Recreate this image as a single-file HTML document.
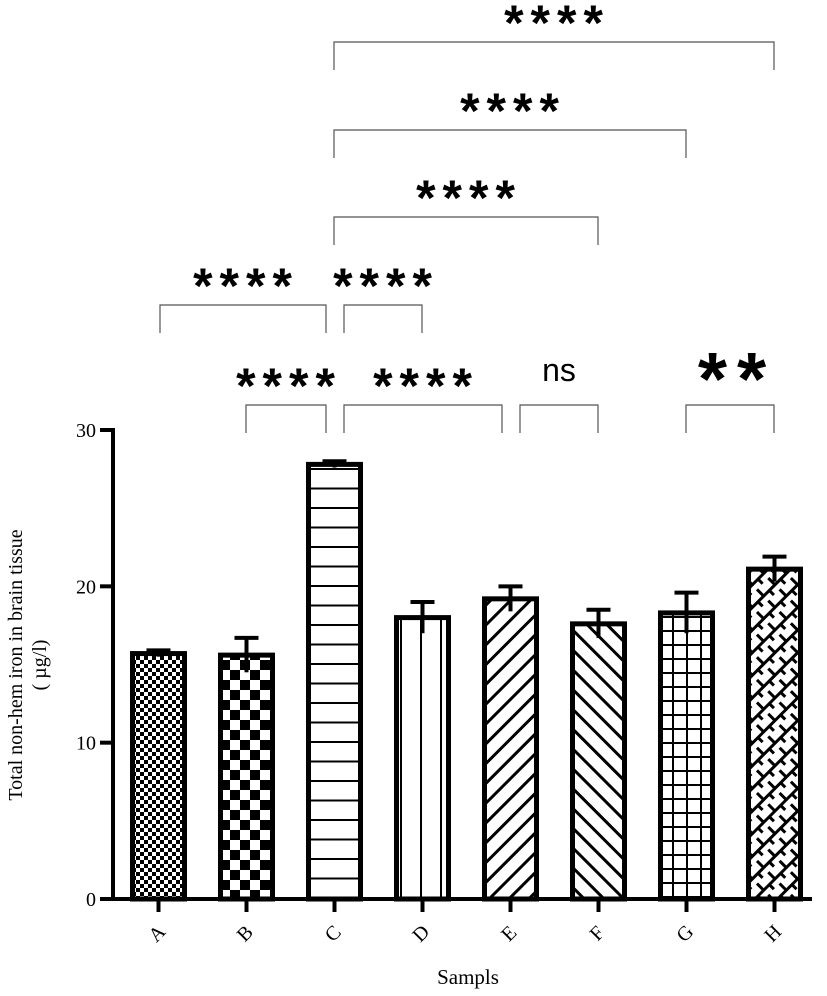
<!DOCTYPE html>
<html><head><meta charset="utf-8"><style>
html,body{margin:0;padding:0;background:#fff}
svg{display:block;font-family:"Liberation Serif",serif}
</style></head><body>
<svg id="chart" width="827" height="996" viewBox="0 0 827 996" xmlns="http://www.w3.org/2000/svg">
<defs>
<pattern id="pA" width="8" height="8" patternUnits="userSpaceOnUse"><rect width="8" height="8" fill="#fff"/><rect width="4" height="4" fill="#000"/><rect x="4" y="4" width="4" height="4" fill="#000"/></pattern>
<pattern id="pB" width="20" height="20" patternUnits="userSpaceOnUse"><rect width="20" height="20" fill="#fff"/><rect width="10" height="10" fill="#000"/><rect x="10" y="10" width="10" height="10" fill="#000"/></pattern>
<pattern id="pC" width="10" height="19.5" patternUnits="userSpaceOnUse"><rect width="10" height="19.5" fill="#fff"/><rect y="0" width="10" height="2" fill="#000"/></pattern>
<pattern id="pD" width="20" height="10" patternUnits="userSpaceOnUse"><rect width="20" height="10" fill="#fff"/><rect x="0" width="2" height="10" fill="#000"/></pattern>
<pattern id="pE" width="14" height="14" patternUnits="userSpaceOnUse" patternTransform="rotate(45)"><rect width="14" height="14" fill="#fff"/><rect width="3" height="14" fill="#000"/></pattern>
<pattern id="pF" width="14" height="14" patternUnits="userSpaceOnUse" patternTransform="rotate(-45)"><rect width="14" height="14" fill="#fff"/><rect width="3" height="14" fill="#000"/></pattern>
<pattern id="pG" width="14" height="14" patternUnits="userSpaceOnUse"><rect width="14" height="14" fill="#fff"/><rect width="2" height="14" fill="#000"/><rect width="14" height="2" fill="#000"/></pattern>
<pattern id="pH" width="16" height="16" patternUnits="userSpaceOnUse" patternTransform="rotate(45)"><rect width="16" height="16" fill="#fff"/><rect width="3" height="16" fill="#000"/><rect y="0" width="8" height="3" fill="#000"/><rect x="8" y="8" width="8" height="3" fill="#000"/></pattern>
</defs>
<g id="bars"></g>
<g id="axes"></g>
<g id="sig"></g>
</svg>
<script>
const categories=["A","B","C","D","E","F","G","H"];
const values=[15.7,15.6,27.8,18.0,19.2,17.6,18.3,21.1];
const errors=[0.2,1.1,0.2,1.0,0.8,0.9,1.3,0.8];
const yTicks=[0,10,20,30];
const patterns=["pA","pB","pC","pD","pE","pF","pG","pH"];
const NS="http://www.w3.org/2000/svg";
const y0=899,yTop=430,yMax=30;
function y(v){return y0-(v/yMax)*(y0-yTop);}
function x(i){return 158.5+i*88;}
function mk(tag,attrs,parent,text){const e=document.createElementNS(NS,tag);for(const k in attrs)e.setAttribute(k,attrs[k]);if(text!==undefined)e.textContent=text;parent.appendChild(e);return e;}
const bars=document.getElementById('bars'),axes=document.getElementById('axes'),sig=document.getElementById('sig');
const bw=52;
categories.forEach((c,i)=>{
  const cx=x(i),top=y(values[i]);
  const r=mk('rect',{x:cx-bw/2,y:top,width:bw,height:y0-top,fill:'url(#'+patterns[i]+')',stroke:'#000','stroke-width':5},bars);
  
  
  const g=mk('g',{stroke:'#000','stroke-width':4},bars);
  
  
  const yh=y(values[i]+errors[i]),yl=y(values[i]-errors[i]);
  mk('line',{x1:cx,x2:cx,y1:yh,y2:yl},g);
  mk('line',{x1:cx-12,x2:cx+12,y1:yh,y2:yh},g);
  const t=mk('text',{x:0,y:0,'font-size':20,'text-anchor':'middle',transform:`translate(${cx+3},938) rotate(-45)`},axes,c);
  
  
  mk('line',{x1:cx,x2:cx,y1:y0,y2:912,stroke:'#000','stroke-width':4},axes);
});
mk('line',{x1:113,x2:113,y1:428,y2:901,stroke:'#000','stroke-width':4},axes);
mk('line',{x1:100,x2:812,y1:y0,y2:y0,stroke:'#000','stroke-width':4},axes);
yTicks.forEach(v=>{
  mk('line',{x1:100,x2:113,y1:y(v),y2:y(v),stroke:'#000','stroke-width':4},axes);
  const t=mk('text',{x:96,y:y(v)+7,'font-size':20,'text-anchor':'end'},axes,String(v));
  
  
});
const xt=mk('text',{x:468,y:984,'font-size':21,'text-anchor':'middle'},axes,'Sampls');


const yt=mk('text',{'font-size':20,'text-anchor':'middle',transform:'translate(22,665) rotate(-90)'},axes,'Total non-hem iron in brain tissue');


const yt2=mk('text',{'font-size':20,'text-anchor':'middle',transform:'translate(46,665) rotate(-90)'},axes,'( µg/l)');


// significance brackets
const brX1=[246,344,520,686,160,344,334,334,334];
const brX2=[326,502,598,774,326,422,598,686,774];
const brY=[405,405,405,405,305,305,217,130,42];
const brLabel=["****","****","ns","**","****","****","****","****","****"];
brX1.forEach((a,i)=>{
  const b=brX2[i],yy=brY[i];
  const g=mk('g',{},sig);
  
  
  mk('path',{d:`M${a} ${yy+28}V${yy}H${b}V${yy+28}`,fill:'none',stroke:'#555','stroke-width':1.2},g);
  const lab=brLabel[i];
  if(lab==='ns') mk('text',{x:(a+b)/2,y:yy-24,'font-size':32,'text-anchor':'middle','font-family':'Liberation Sans, sans-serif'},g,lab);
  else if(lab==='**') mk('text',{x:(a+b)/2+7,y:yy,'font-size':75,'font-weight':'bold','text-anchor':'middle','font-family':'Liberation Sans, sans-serif','letter-spacing':10},g,lab);
  else mk('text',{x:(a+b)/2+3,y:yy-2,'font-size':50,'font-weight':'bold','text-anchor':'middle','font-family':'Liberation Sans, sans-serif','letter-spacing':7},g,lab);
});
</script>
</body></html>
